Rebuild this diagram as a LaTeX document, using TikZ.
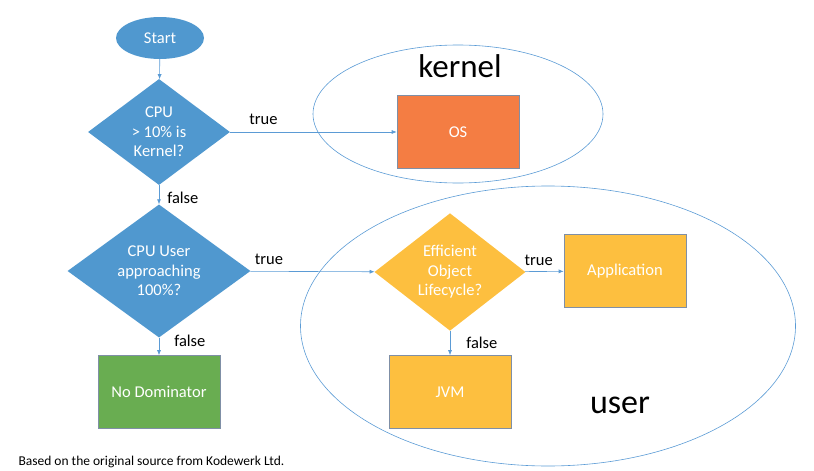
\documentclass[tikz,border=0pt]{standalone}
\usepackage{fontspec}
\setmainfont{Carlito}
\usetikzlibrary{shapes.geometric,arrows.meta}

\definecolor{flowblue}{HTML}{5098CF}
\definecolor{lineblue}{HTML}{5B9BD5}
\definecolor{osorange}{HTML}{F47D43}
\definecolor{usergold}{HTML}{FDBF3F}
\definecolor{nogreen}{HTML}{69AD51}
\definecolor{edgegray}{HTML}{7F8FA6}

\begin{document}
\begin{tikzpicture}[x=1pt,y=-1pt,
    every node/.style={font=\fontsize{16.5}{19.5}\selectfont},
    terminal/.style={ellipse,fill=flowblue,text=white,minimum width=88pt,minimum height=42pt,inner sep=0pt},
    decision/.style={diamond,fill=#1,text=white,align=center,inner sep=0pt},
    process/.style={rectangle,draw=edgegray,line width=0.6pt,fill=#1,text=white,minimum width=122pt,minimum height=73pt,inner sep=0pt},
    region/.style={ellipse,draw=lineblue,line width=0.6pt,inner sep=0pt},
    flow/.style={draw=lineblue,line width=0.6pt,-{Latex[length=5pt,width=4pt]}},
    cond/.style={inner sep=1pt}]
        \useasboundingbox (0,0) rectangle (814,471);

        \node[region,minimum width=290pt,minimum height=138pt] at (458, 114) (kernelzone) {};
        \node[region,minimum width=495pt,minimum height=280pt] at (548, 326) (userzone) {};
        \node[font=\fontsize{33}{33}\selectfont] at (460, 66) (kerneltext) {kernel};
        \node[font=\fontsize{34}{34}\selectfont] at (620, 405) (usertext) {user};

        \node[terminal] at (160, 38) (start) {Start};
        \node[decision=flowblue,minimum width=142pt,minimum height=106pt] at (159, 132) (cpukernel) {CPU\\> 10\% is\\Kernel?};
        \node[decision=flowblue,minimum width=183pt,minimum height=107pt] at (159, 271) (cpuuser) {CPU User\\approaching\\100\%?};
        \node[decision=usergold,minimum width=151pt,minimum height=106pt] at (450, 272) (lifecycle) {Efficient\\Object\\Lifecycle?};
        \node[process=osorange] at (458, 132) (os) {OS};
        \node[process=usergold] at (625, 271) (app) {Application};
        \node[process=usergold] at (450, 392) (jvm) {JVM};
        \node[process=nogreen] at (159, 392) (nodom) {No Dominator};

        \draw[flow](start) -- (cpukernel);
        \draw[flow](cpukernel) -- node[cond,above=6pt,pos=0.2] {true} (os);
        \draw[flow](cpukernel) -- node[cond,right,pos=0.68,xshift=7pt] {false} (cpuuser);
        \draw[flow](cpuuser) -- node[cond,above=5pt,pos=0.15] {true} (lifecycle);
        \draw[flow](cpuuser) -- node[cond,right,pos=0.2,xshift=14pt] {false} (nodom);
        \draw[flow](lifecycle) -- node[cond,above=5pt,pos=0.35] {true} (app);
        \draw[flow](lifecycle) -- node[cond,right,pos=0.5,xshift=15pt] {false} (jvm);

        \node[anchor=west,font=\fontsize{13.5}{13.5}\selectfont] at (15, 462) (source) {Based on the original source from Kodewerk Ltd.};
    \end{tikzpicture}
\end{document}
